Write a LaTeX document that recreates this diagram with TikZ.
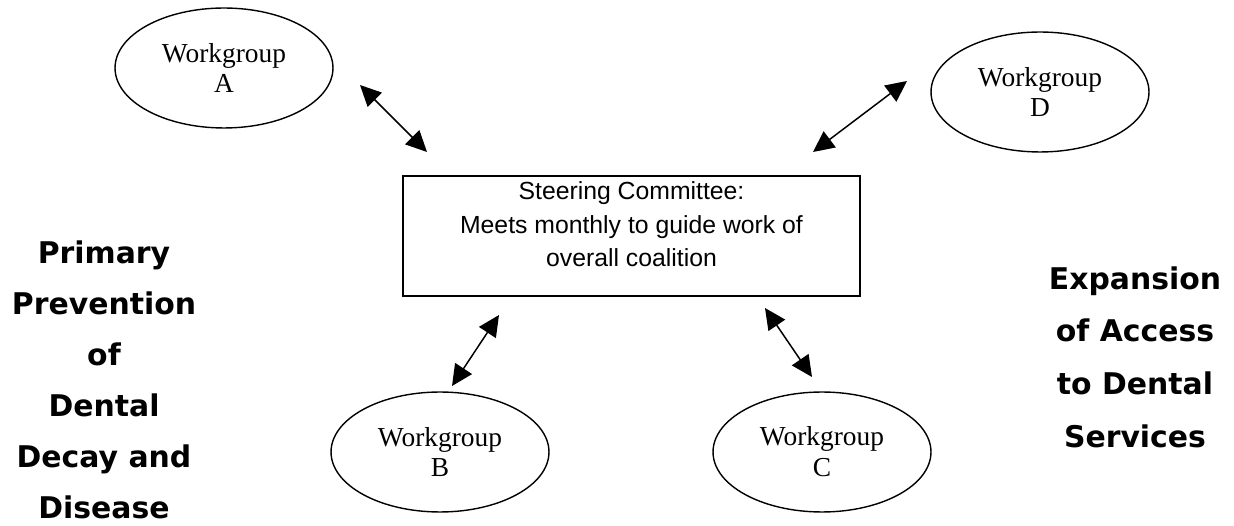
\documentclass[tikz,border=0pt]{standalone}
\usepackage{fontspec}
\setmainfont{Liberation Serif}
\setsansfont{Liberation Sans}
\newfontfamily\themefont{DejaVu Sans}
\usepackage{tikz}
\usetikzlibrary{arrows.meta, positioning, shapes.geometric}
\tikzset{%
	every group/.style={
		ellipse,
		draw,
		line width=0.8pt,
		minimum width=4.36cm,
		minimum height=2.4cm,
		inner sep=0pt,
		align=center,
		font=\fontsize{15.6}{17.6}\selectfont
	},
	theme text/.style={
		align=center,
		font=\themefont\bfseries\fontsize{17}{29}\selectfont
	},
}

\begin{document}
\begin{tikzpicture}[x=0.02cm, y=-0.02cm]
			\tikzstyle{link}=[{Triangle[length=0.42cm,width=0.4cm]}-{Triangle[length=0.42cm,width=0.4cm]}, line width=0.85pt]
			\tikzstyle{panel}=[draw, line width=0.8pt, minimum width=9.14cm, minimum height=2.4cm, align=center, text depth=0.47cm, font=\sffamily\fontsize{14.1}{19}\selectfont]
			
			\useasboundingbox (0,0) rectangle (1234,526);
			
			\node[panel](steer) at (631.5,236){Steering Committee:\\Meets monthly to guide work of\\overall coalition};
			
			\node[every group](wgA) at (224,68){Workgroup\\A};
			\node[every group](wgD) at (1040,92){Workgroup\\D};
			\node[every group](wgB) at (440,452){Workgroup\\B};
			\node[every group](wgC) at (822,452){Workgroup\\C};
			
			\coordinate (a1) at (360,85);
			\coordinate (a2) at (427,152);
			\coordinate (d1) at (907,81);
			\coordinate (d2) at (813,152);
			\coordinate (b1) at (452,386);
			\coordinate (b2) at (499,315);
			\coordinate (c1) at (812,377);
			\coordinate (c2) at (765,308);
			
			\draw[link] (a1) -- (a2);
			\draw[link] (d1) -- (d2);
			\draw[link] (b1) -- (b2);
			\draw[link] (c1) -- (c2);
			
			\node[theme text](prev) at (104,380){Primary\\Prevention\\of\\Dental\\Decay and\\Disease};
			\node[theme text, font=\themefont\bfseries\fontsize{17}{30}\selectfont](access) at (1135,357){Expansion\\of Access\\to Dental\\Services};
		\end{tikzpicture}
\end{document}
